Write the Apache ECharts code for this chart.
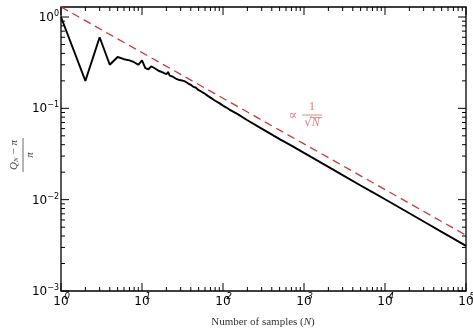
<!DOCTYPE html>
<html><head><meta charset="utf-8">
<script src="https://cdn.jsdelivr.net/npm/echarts@6/dist/echarts.min.js"></script>
<style>html,body{margin:0;padding:0;background:#fff}#c{width:473px;height:335px}</style>
</head><body><div id="c"></div>
<script>
// ---- data ----
const sampleN = [1,2,3,4,5,6,7,8,9,10,11,12,13,14,15,16,18,20,21,22,24,26,27,29,31,32,34,35,37,38,40,42,43,45,46,48,50,53,55,58,60,65,70,75,80,90,100,110,120,150,200,300,500,700,1000,2000,3000,5000,7000,10000,20000,30000,50000,70000,100000];
const relError = [1.0,0.20,0.60,0.30,0.365,0.345,0.335,0.32,0.30,0.335,0.275,0.268,0.288,0.278,0.268,0.258,0.248,0.236,0.25,0.228,0.222,0.212,0.218,0.204,0.202,0.196,0.197,0.19,0.188,0.18,0.181,0.174,0.172,0.168,0.169,0.163,0.158,0.154,0.151,0.147,0.144,0.137,0.131,0.126,0.121,0.114,0.107,0.102,0.097,0.087,0.074,0.060,0.046,0.039,0.0325,0.0229,0.0186,0.0143,0.0121,0.0101,0.0071,0.00576,0.00444,0.00374,0.00312];
const refN = [1, 100000];
const refValue = [1.29, 0.00408];
const yExpLabels = {'-3':'\u22123','-2':'\u22122','-1':'\u22121','0':'0'};

// tick positions (axis decoration, not data)
const xTicks = [];
for (let k = 0; k < 5; k++) for (let m = 1; m <= 9; m++) xTicks.push([m*Math.pow(10,k), 0.01, m===1?1:0]);
xTicks.push([1e5, 0.01, 1]);
const yTicks = [];
for (let k = -3; k < 0; k++) for (let m = 1; m <= 9; m++) yTicks.push([1, m*Math.pow(10,k), m===1?1:0]);
yTicks.push([1, 1, 1]);

function isPow(v){ const e = Math.log10(v); return Math.abs(e - Math.round(e)) < 1e-6; }
function expOf(v){ return Math.round(Math.log10(v)); }

const chart = echarts.init(document.getElementById('c'), null, {renderer:'canvas'});
const XMIN = 1, XMAX = 1e5, YMIN = 0.001, YMAX = 1.287;

function xTickRender(params, api){
  const p = api.coord([api.value(0), 0.01]);
  const cs = params.coordSys, len = api.value(2) ? 8 : 4;
  const b = cs.y + cs.height, t = cs.y;
  return {type:'group', children:[
    {type:'line', shape:{x1:p[0],y1:b,x2:p[0],y2:b-len}, style:{stroke:'#000',lineWidth:1}},
    {type:'line', shape:{x1:p[0],y1:t,x2:p[0],y2:t+len}, style:{stroke:'#000',lineWidth:1}}
  ]};
}
function yTickRender(params, api){
  const p = api.coord([1, api.value(1)]);
  const cs = params.coordSys, len = api.value(2) ? 8 : 4;
  const l = cs.x, r = cs.x + cs.width;
  return {type:'group', children:[
    {type:'line', shape:{x1:l,y1:p[1],x2:l+len,y2:p[1]}, style:{stroke:'#000',lineWidth:1}},
    {type:'line', shape:{x1:r,y1:p[1],x2:r-len,y2:p[1]}, style:{stroke:'#000',lineWidth:1}}
  ]};
}

const baseX = {type:'log', logBase:10, min:XMIN, max:XMAX, axisLine:{show:false}, axisTick:{show:false}, splitLine:{show:false}, minorTick:{show:false}};
const baseY = {type:'log', logBase:10, min:YMIN, max:YMAX, axisLine:{show:false}, axisTick:{show:false}, splitLine:{show:false}, minorTick:{show:false}};

chart.setOption({
  animation:false,
  backgroundColor:'#fff',
  grid:{left:61, top:7, width:405, height:284, show:true, borderColor:'#000', borderWidth:1.3, backgroundColor:'transparent', containLabel:false, outerBoundsMode:'none'},
  xAxis:[
    Object.assign({}, baseX, {position:'bottom', axisLabel:{formatter:v=>isPow(v)?'10':'', fontSize:12, fontFamily:'DejaVu Sans', color:'#000', margin:5, showMinLabel:true, showMaxLabel:true, hideOverlap:false}}),
    Object.assign({}, baseX, {position:'bottom', axisLabel:{formatter:v=>isPow(v)?String(expOf(v)):'', fontSize:9, fontFamily:'DejaVu Sans', fontStyle:'italic', color:'#000', margin:1, padding:[0,0,0,12], showMinLabel:true, showMaxLabel:true, hideOverlap:false}})
  ],
  yAxis:[
    Object.assign({}, baseY, {position:'left', axisLabel:{formatter:v=>isPow(v)?('{b|10}{s|'+yExpLabels[String(expOf(v))]+'}'):'', margin:2, color:'#000', showMinLabel:true, showMaxLabel:false, hideOverlap:false,
      rich:{b:{fontSize:12, fontFamily:'DejaVu Sans', color:'#000', verticalAlign:'bottom', lineHeight:14}, s:{fontSize:8, fontFamily:'DejaVu Sans', color:'#000', verticalAlign:'top', lineHeight:14, padding:[0,0,7,0]}}}})
  ],
  series:[
    {type:'custom', xAxisIndex:0, yAxisIndex:0, data:xTicks, renderItem:xTickRender, clip:false, silent:true, z:5},
    {type:'custom', xAxisIndex:0, yAxisIndex:0, data:yTicks, renderItem:yTickRender, clip:false, silent:true, z:5},
    {type:'line', xAxisIndex:0, yAxisIndex:0, data:refN.map((n,i)=>[n, refValue[i]]), showSymbol:false, silent:true,
      lineStyle:{color:'#cc3838', width:1.3, type:[8,5]}, z:3},
    {type:'line', xAxisIndex:0, yAxisIndex:0, data:sampleN.map((n,i)=>[n, relError[i]]), showSymbol:false, silent:true,
      lineStyle:{color:'#000', width:1.9}, z:4}
  ],
  graphic:[
    {type:'text', x:263, y:322, style:{text:'Number of samples ({i|N})', font:'11px "Liberation Serif"', fill:'#333', align:'center', verticalAlign:'middle',
      rich:{i:{fontStyle:'italic', fontFamily:'Liberation Serif', fontSize:11, fill:'#333'}}}},
    {type:'group', x:23, y:155, rotation:Math.PI/2, children:[
      {type:'text', x:0, y:-3, style:{text:'{q|Q}{n|N} \u2212 {p|\u03C0}', align:'center', verticalAlign:'bottom', fill:'#444',
        rich:{q:{fontStyle:'italic', fontFamily:'Liberation Serif', fontSize:11, fill:'#444'}, n:{fontStyle:'italic', fontFamily:'Liberation Serif', fontSize:7, fill:'#444', verticalAlign:'bottom'}, p:{fontStyle:'italic', fontFamily:'Liberation Serif', fontSize:11, fill:'#444'}}, font:'11px "Liberation Serif"'}},
      {type:'line', shape:{x1:-17, y1:0, x2:17, y2:0}, style:{stroke:'#444', lineWidth:0.8}},
      {type:'text', x:0, y:2, style:{text:'\u03C0', font:'italic 11px "Liberation Serif"', fill:'#444', align:'center', verticalAlign:'top'}}
    ]},
    {type:'group', x:0, y:0, children:[
      {type:'text', x:293, y:116, style:{text:'\u221D', font:'13px "DejaVu Serif"', fill:'#e07a7a', align:'center', verticalAlign:'middle'}},
      {type:'text', x:312, y:113, style:{text:'1', font:'12px "Liberation Serif"', fill:'#e07a7a', align:'center', verticalAlign:'bottom'}},
      {type:'line', shape:{x1:302, y1:115, x2:322, y2:115}, style:{stroke:'#e07a7a', lineWidth:0.9}},
      {type:'text', x:312, y:117, style:{text:'\u221A{i|N}', font:'12px "DejaVu Serif"', fill:'#e07a7a', align:'center', verticalAlign:'top',
        rich:{i:{fontStyle:'italic', fontFamily:'Liberation Serif', fontSize:12, fill:'#e07a7a'}}}},
      {type:'line', shape:{x1:310, y1:117.5, x2:322, y2:117.5}, style:{stroke:'#e07a7a', lineWidth:0.8}}
    ]}
  ]
});
</script></body></html>
